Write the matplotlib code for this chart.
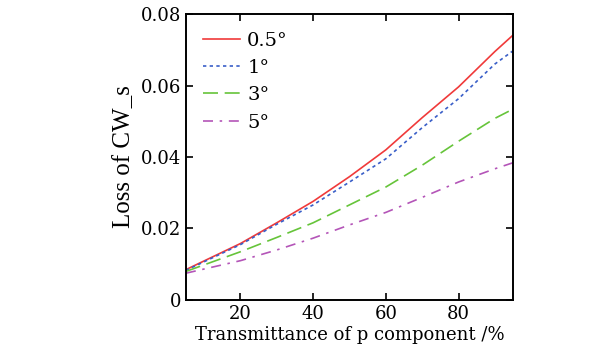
import matplotlib.pyplot as plt
from matplotlib import rcParams

rcParams.update({
    "font.family": 'serif',
    "font.serif": ['DejaVu Serif'],
    "font.size": 13,
    "mathtext.fontset": 'dejavuserif',
})

x = [5, 20, 30, 40, 50, 60, 70, 80, 90, 95]

loss_05 = [0.0085, 0.0158, 0.0216, 0.0276, 0.0345, 0.0420, 0.0510, 0.0596, 0.0695, 0.0741]
loss_1 = [0.0083, 0.0155, 0.0212, 0.0266, 0.0330, 0.0395, 0.0482, 0.0563, 0.0660, 0.0697]
loss_3 = [0.0080, 0.0135, 0.0175, 0.0216, 0.0266, 0.0316, 0.0377, 0.0444, 0.0508, 0.0534]
loss_5 = [0.0075, 0.0110, 0.0140, 0.0173, 0.0210, 0.0245, 0.0287, 0.0330, 0.0367, 0.0384]

labels = ['0.5°', '1°', '3°', '5°']

fig = plt.figure(figsize=(6.13, 3.6), dpi=100)
ax = fig.add_axes([0.3034, 0.1667, 0.5335, 0.7944])

ax.plot(x, loss_05, color='#f03a3a', linestyle='-', linewidth=1.2, label=labels[0])
ax.plot(x, loss_1, color='#3a5fc8', linestyle=(0, (2, 2)), linewidth=1.2, label=labels[1])
ax.plot(x, loss_3, color='#66c43a', linestyle=(0, (9, 4)), linewidth=1.2, label=labels[2])
ax.plot(x, loss_5, color='#b455b8', linestyle=(0, (6, 4, 1.5, 4)), linewidth=1.2, label=labels[3])

ax.set_xlim(5, 95)
ax.set_ylim(0, 0.08)
ax.set_xticks([20, 40, 60, 80])
ax.set_yticks([0, 0.02, 0.04, 0.06, 0.08], ['0', '0.02', '0.04', '0.06', '0.08'])
ax.tick_params(direction='in', top=True, right=True, length=5, width=1.2)
for s in ax.spines.values():
    s.set_linewidth(1.4)

ax.set_xlabel('Transmittance of p component /%', labelpad=2)
ax.set_ylabel('Loss of CW_s', labelpad=4, family='Liberation Serif', fontsize=18)

ax.legend(loc='upper left', frameon=False, handlelength=1.9, handletextpad=0.35,
          labelspacing=0.48, borderaxespad=0.5, fontsize=14)

plt.savefig('out.png', dpi=100)
